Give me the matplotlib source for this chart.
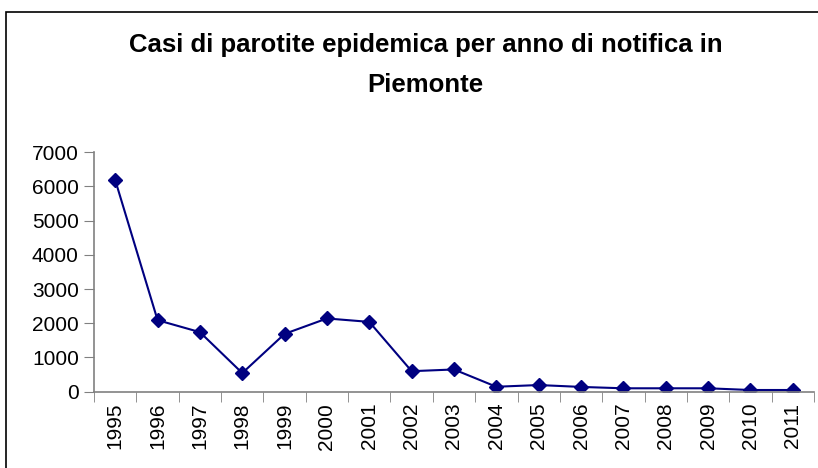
import numpy as np
from matplotlib import pyplot as plt
from matplotlib.patches import Rectangle

plt.rcParams['font.family'] = ['Liberation Sans', 'DejaVu Sans']

years = ['1995', '1996', '1997', '1998', '1999', '2000', '2001', '2002', '2003',
         '2004', '2005', '2006', '2007', '2008', '2009', '2010', '2011']
cases = [6180, 2090, 1740, 545, 1690, 2140, 2040, 600, 650,
         145, 195, 140, 100, 100, 100, 50, 50]

fig = plt.figure(figsize=(8.18, 4.68), dpi=100)
ax = fig.add_axes([0.115, 0.163, 0.88, 0.512])

x = np.arange(len(years))
ax.plot(x, cases, color='#000080', linewidth=1.5, marker='D', markersize=7)

ax.set_xlim(-0.5, len(years) - 0.5)
ax.set_ylim(0, 7000)
ax.set_yticks(np.arange(0, 7001, 1000))
ax.set_xticks(x)
ax.set_xticklabels(years, rotation=90)
ax.set_xticks(np.arange(-0.5, len(years), 1), minor=True)
ax.tick_params(axis='x', which='major', length=0, pad=8, labelsize=15)
ax.tick_params(axis='x', which='minor', length=7, direction='out', color='#808080')
ax.tick_params(axis='y', length=7, direction='out', color='#808080', labelsize=15, pad=4)

for side in ['top', 'right']:
    ax.spines[side].set_visible(False)
for side in ['left', 'bottom']:
    ax.spines[side].set_color('#808080')
    ax.spines[side].set_linewidth(1.2)

fig.text(0.52, 0.903, 'Casi di parotite epidemica per anno di notifica in',
         ha='center', va='center', fontsize=18.5, fontweight='bold')
fig.text(0.52, 0.818, 'Piemonte', ha='center', va='center', fontsize=18.5, fontweight='bold')

fig.patches.append(Rectangle((6 / 818, -0.05), 1.0, 1.05 - 12 / 468,
                             transform=fig.transFigure, fill=False,
                             edgecolor='black', linewidth=1.2))

fig.savefig('out.png', dpi=100)
